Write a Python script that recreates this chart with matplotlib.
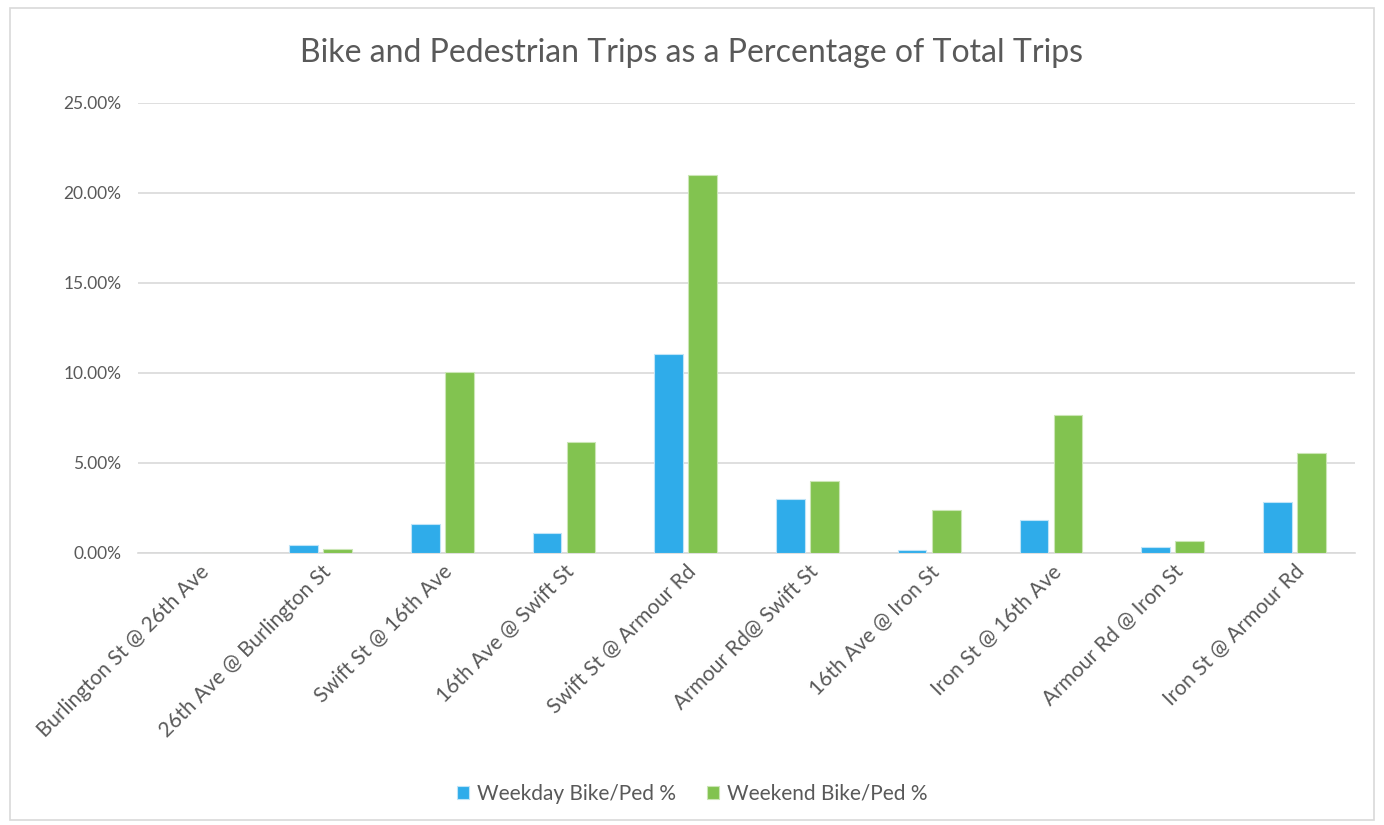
import matplotlib.pyplot as plt
import numpy as np
from matplotlib.patches import Rectangle
from matplotlib.ticker import FuncFormatter

plt.rcParams['font.family'] = ['Lato', 'DejaVu Sans']

intersections = [
    'Burlington St @ 26th Ave',
    '26th Ave @ Burlington St',
    'Swift St @ 16th Ave',
    '16th Ave @ Swift St',
    'Swift St @ Armour Rd',
    'Armour Rd@ Swift St',
    '16th Ave @ Iron St',
    'Iron St @ 16th Ave',
    'Armour Rd @ Iron St',
    'Iron St @ Armour Rd',
]
weekday_pct = [0.0, 0.0044, 0.0162, 0.0109, 0.1107, 0.0301, 0.0015, 0.0185, 0.0035, 0.0282]
weekend_pct = [0.0, 0.0023, 0.1003, 0.0614, 0.2102, 0.0399, 0.0240, 0.0764, 0.0068, 0.0558]

BLUE = '#2FACEA'
GREEN = '#82C350'
TEXT = '#595959'

fig = plt.figure(figsize=(13.84, 8.25), dpi=100)
ax = fig.add_axes([0.0997, 0.3297, 0.8795, 0.5455])

x = np.arange(len(intersections))
w = 0.235
gap = 0.045
ax.bar(x - (w + gap) / 2, weekday_pct, w, color=BLUE, edgecolor='#BFE4F8',
       linewidth=0.8, label='Weekday Bike/Ped %', zorder=3)
ax.bar(x + (w + gap) / 2, weekend_pct, w, color=GREEN, edgecolor='#CBE6B6',
       linewidth=0.8, label='Weekend Bike/Ped %', zorder=3)

ax.set_xlim(-0.5, len(intersections) - 0.5)
ax.set_ylim(0, 0.25)
ax.set_yticks(np.arange(0, 0.2501, 0.05))
ax.yaxis.set_major_formatter(FuncFormatter(lambda v, _: f'{v * 100:.2f}%'))
ax.grid(axis='y', color='#D9D9D9', linewidth=1.2, zorder=0)
for side in ['top', 'right', 'left']:
    ax.spines[side].set_visible(False)
ax.spines['bottom'].set_color('#D9D9D9')
ax.spines['bottom'].set_linewidth(1.2)
ax.tick_params(axis='both', length=0, colors=TEXT)
ax.tick_params(axis='y', pad=12, labelsize=12.5)
ax.tick_params(axis='x', pad=6, labelsize=15)

ax.set_xticks(x)
ax.set_xticklabels(intersections, rotation=45, ha='right', rotation_mode='anchor')

fig.text(0.5, 0.936, 'Bike and Pedestrian Trips as a Percentage of Total Trips',
         ha='center', va='center', fontsize=23, color=TEXT)

fig.legend(loc='center', bbox_to_anchor=(0.5, 0.038), ncol=2, frameon=False,
           fontsize=15, labelcolor=TEXT, handlelength=0.6, handleheight=0.6,
           handletextpad=0.35, columnspacing=1.5)

# light frame around the whole chart
fig.patches.append(Rectangle((0.007, 0.006), 0.986, 0.984, transform=fig.transFigure,
                             fill=False, edgecolor='#D9D9D9', linewidth=1.2))

fig.savefig('out.png', dpi=100)
